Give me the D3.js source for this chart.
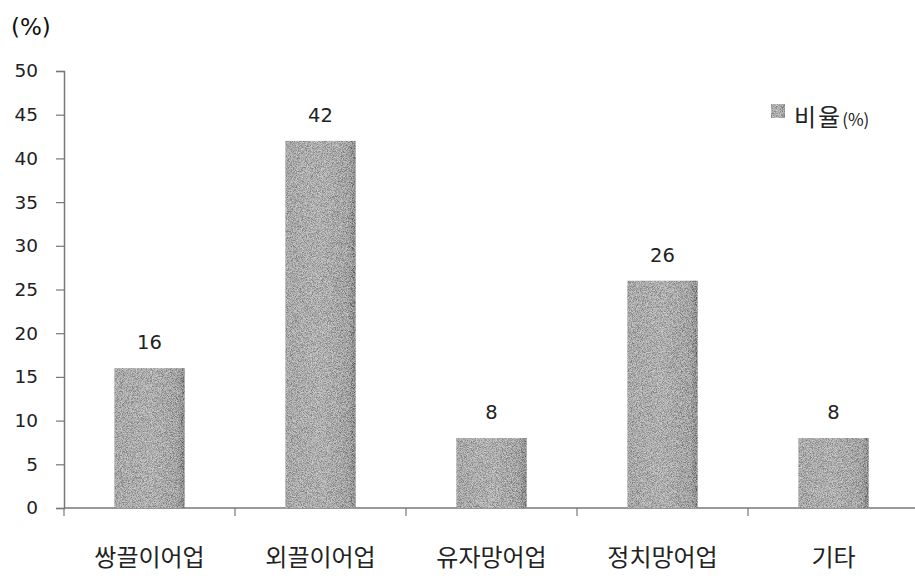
<!DOCTYPE html>
<html><head><meta charset="utf-8">
<script src="https://cdn.jsdelivr.net/npm/d3@7"></script>
<style>body{margin:0;background:#fff}svg{display:block}</style>
</head><body>
<script>
const categories = ["쌍끌이어업","외끌이어업","유자망어업","정치망어업","기타"];
const values = [16, 42, 8, 26, 8];
const yTicks = [0,5,10,15,20,25,30,35,40,45,50];
const seriesName = "비율";
const unitLabel = "(%)";

const W = 915, H = 579;
const svg = d3.select("body").append("svg").attr("width", W).attr("height", H);
const defs = svg.append("defs");
const grad = defs.append("linearGradient").attr("id","barGrad").attr("x1","0").attr("x2","1").attr("y1","0").attr("y2","0");
grad.append("stop").attr("offset","0%").attr("stop-color","#9a9a9a");
grad.append("stop").attr("offset","50%").attr("stop-color","#a6a6a6");
grad.append("stop").attr("offset","90%").attr("stop-color","#929292");
grad.append("stop").attr("offset","100%").attr("stop-color","#5e5e5e");
const f = defs.append("filter").attr("id","grain").attr("x","0").attr("y","0").attr("width","1").attr("height","1");
f.append("feTurbulence").attr("type","fractalNoise").attr("baseFrequency","1.2").attr("numOctaves","2").attr("seed","5").attr("result","noise");
f.append("feColorMatrix").attr("in","noise").attr("type","matrix")
  .attr("values","2.2 0 0 0 -0.6  2.2 0 0 0 -0.6  2.2 0 0 0 -0.6  0 0 0 0 0.38").attr("result","gn");
f.append("feComposite").attr("in","gn").attr("in2","SourceGraphic").attr("operator","in").attr("result","gm");
f.append("feComposite").attr("in","gm").attr("in2","SourceGraphic").attr("operator","over");

const x = d3.scaleBand().domain(categories).range([64, 919]).paddingInner(0.59).paddingOuter(0.295);
const y = d3.scaleLinear().domain([0, 50]).range([508, 71]);

// y axis
const yAxis = d3.axisLeft(y).tickValues(yTicks).tickSize(8).tickPadding(18);
const gy = svg.append("g").attr("transform","translate(64,0)").call(yAxis);
gy.select(".domain").attr("stroke","#777").attr("stroke-width",1.5);
gy.selectAll(".tick line").attr("stroke","#777").attr("stroke-width",1.2);
gy.selectAll(".tick text").attr("font-family","DejaVu Sans").attr("font-size",18.5).attr("fill","#222");

// x axis
const band = x.step();
const xTickPos = d3.range(categories.length + 1).map(i => 64 + i * band);
const gx = svg.append("g");
gx.append("line").attr("x1",64).attr("x2",919).attr("y1",y(0)).attr("y2",y(0)).attr("stroke","#777").attr("stroke-width",1.5);
gx.selectAll("line.t").data(xTickPos).join("line").attr("class","t")
  .attr("x1",d=>d).attr("x2",d=>d).attr("y1",y(0)).attr("y2",y(0)+8).attr("stroke","#777").attr("stroke-width",1.2);
gx.selectAll("text").data(categories).join("text")
  .attr("x", d => x(d) + x.bandwidth()/2).attr("y", 558).attr("dy","0.35em")
  .attr("text-anchor","middle").attr("font-family","Noto Sans CJK KR").attr("font-size",24).attr("fill","#222")
  .text(d => d);

// bars
svg.append("g").selectAll("rect").data(values).join("rect")
  .attr("x",(d,i)=>x(categories[i])).attr("width",x.bandwidth())
  .attr("y",d=>y(d)).attr("height",d=>y(0)-y(d))
  .attr("fill","url(#barGrad)").attr("filter","url(#grain)");

// value labels
svg.append("g").selectAll("text").data(values).join("text")
  .attr("x",(d,i)=>x(categories[i]) + x.bandwidth()/2).attr("y",d=>y(d)-26).attr("dy","0.35em")
  .attr("text-anchor","middle").attr("font-family","DejaVu Sans").attr("font-size",19.5).attr("fill","#222")
  .text(d=>d);

// unit label
svg.append("text").attr("x",11).attr("y",27).attr("dy","0.35em").attr("font-family","DejaVu Sans").attr("font-size",23).attr("fill","#111").text(unitLabel);

// legend
const lg = svg.append("g");
lg.append("rect").attr("x",771).attr("y",104).attr("width",14).attr("height",14).attr("fill","url(#barGrad)").attr("filter","url(#grain)");
const lt = lg.append("text").attr("x",794).attr("y",120).attr("dy","0.35em").attr("font-family","Noto Sans CJK KR").attr("fill","#222");
lt.append("tspan").attr("font-size",24).attr("letter-spacing",2).text(seriesName);
lt.append("tspan").attr("font-size",17).text(unitLabel);
</script>
</body></html>
